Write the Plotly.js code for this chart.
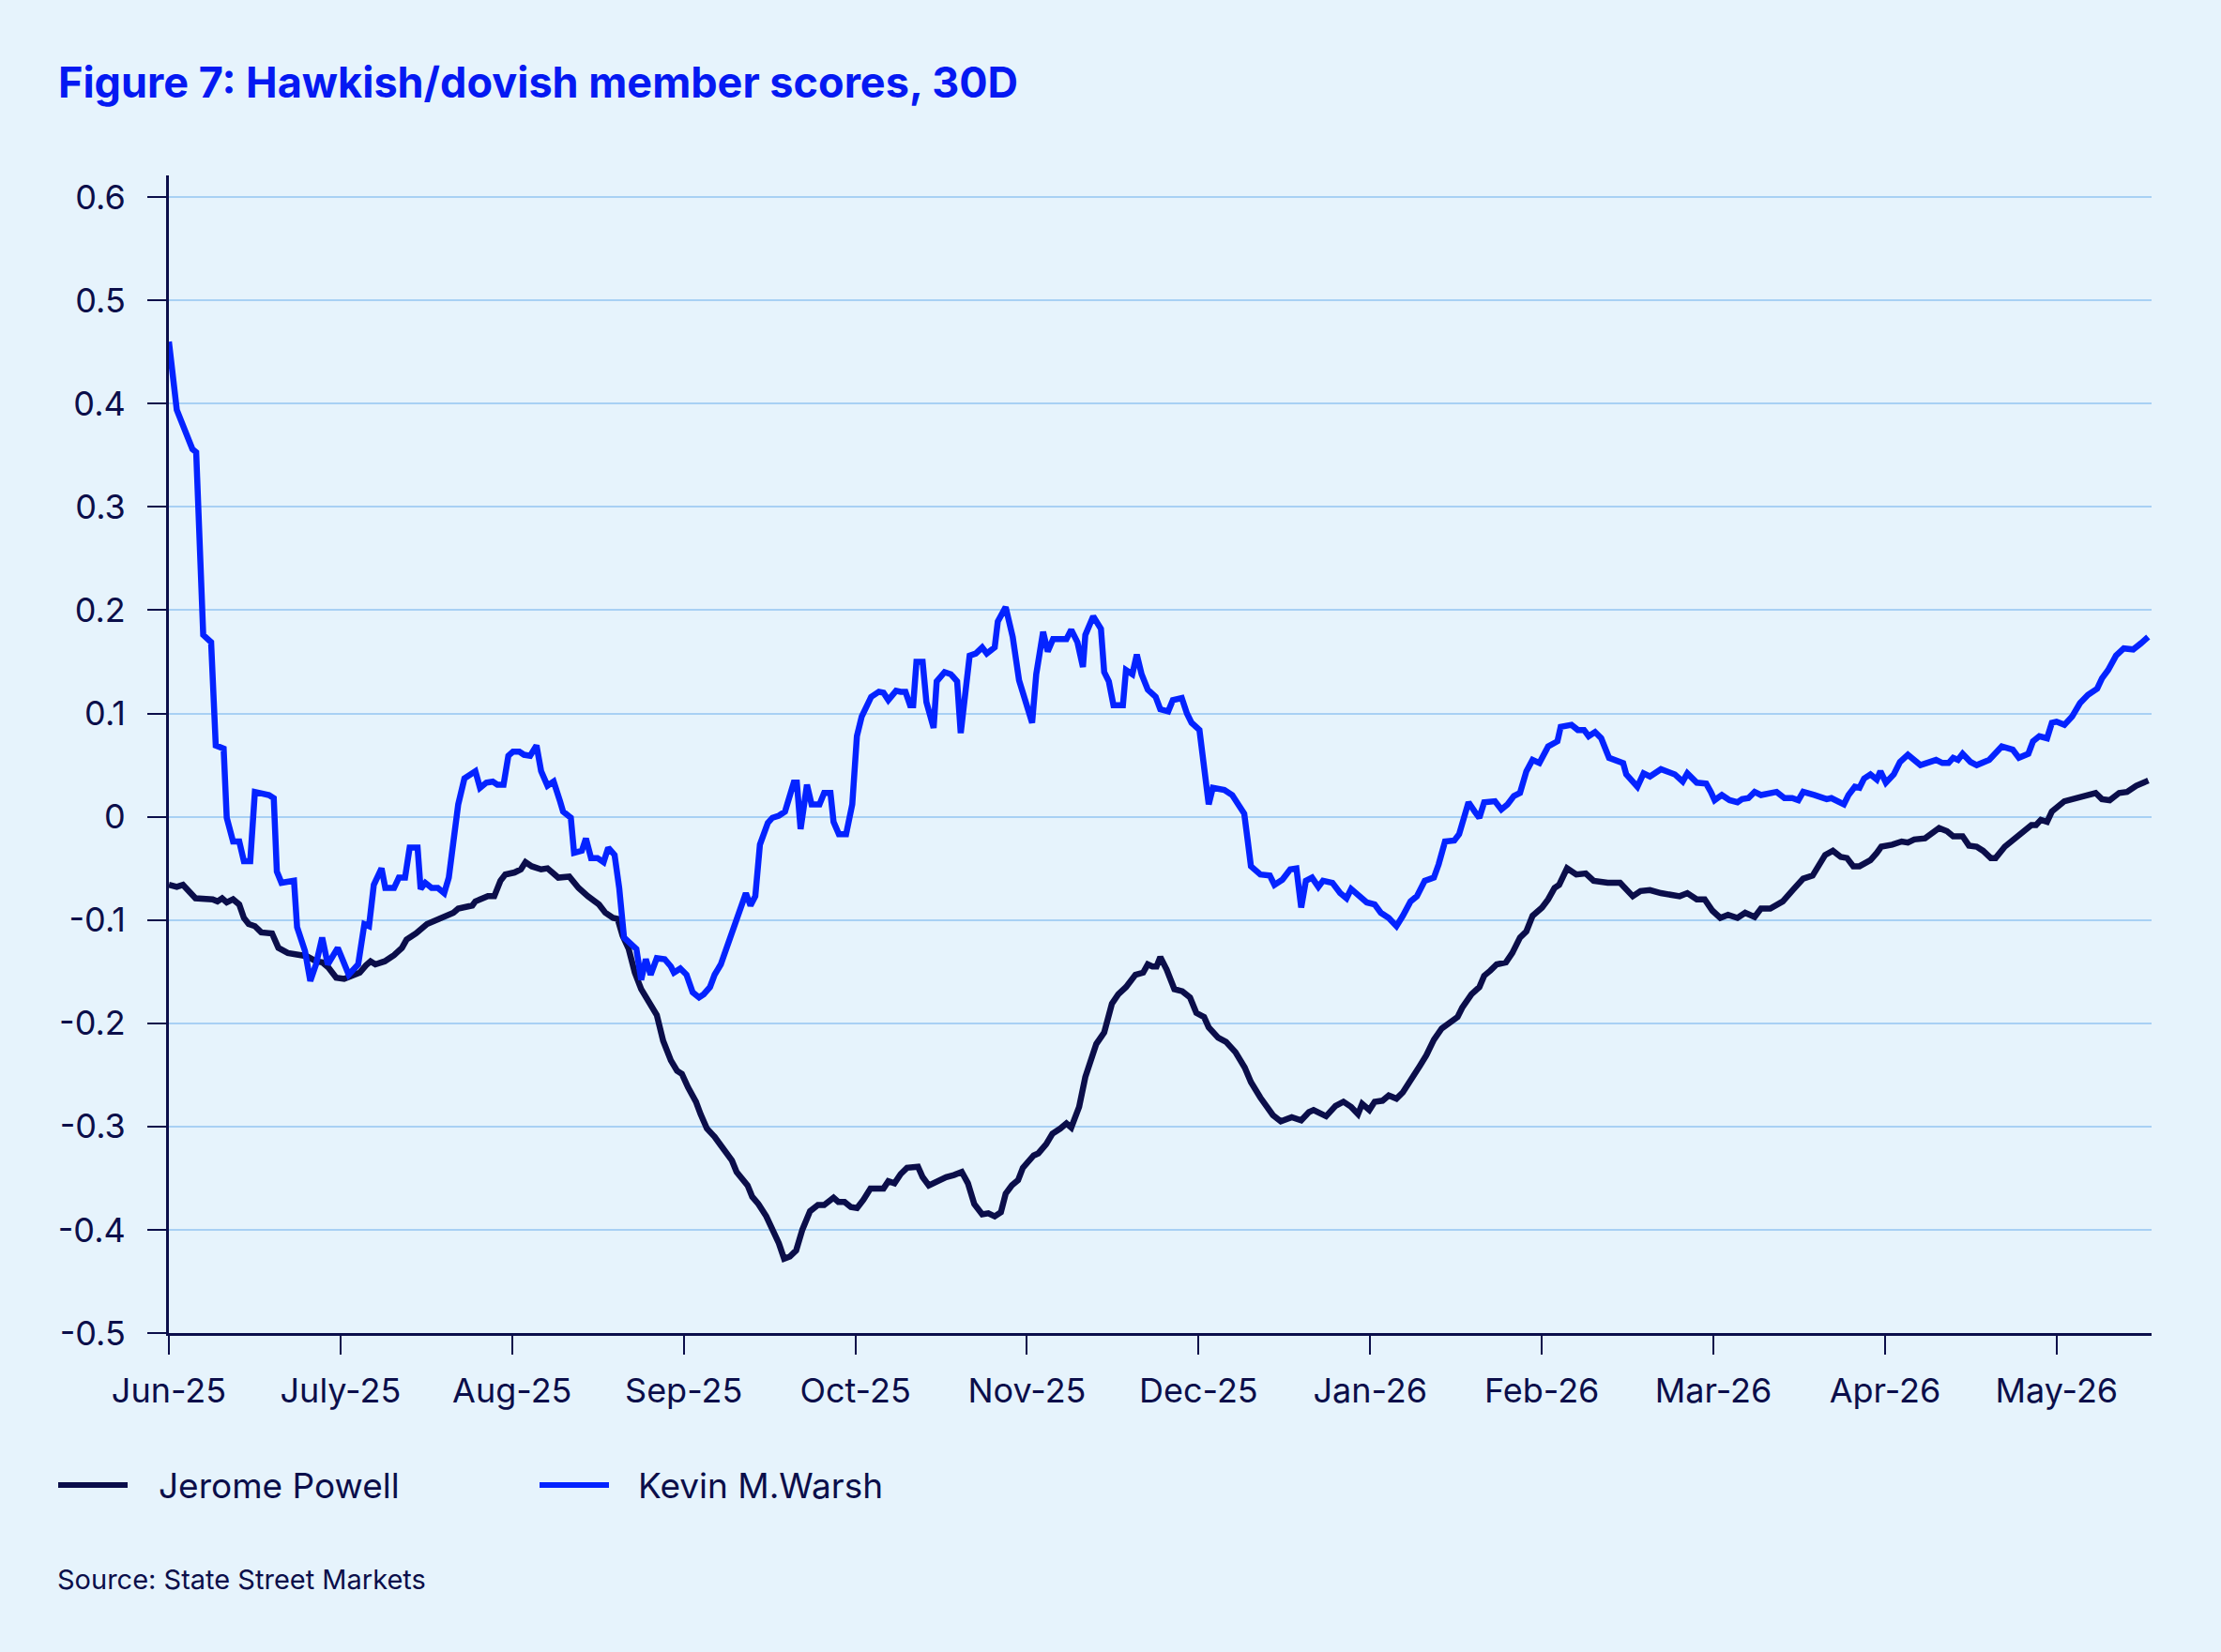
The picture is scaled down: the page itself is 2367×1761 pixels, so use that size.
<!DOCTYPE html>
<html>
<head>
<meta charset="utf-8">
<script src="https://cdn.plot.ly/plotly-3.0.1.min.js"></script>
<style>
  html, body { margin: 0; padding: 0; background: #E6F3FC; }
  #chart { width: 2367px; height: 1761px; }
</style>
</head>
<body>
<div id="chart"></div>
<script>
// ---- Data (x = position in months since Jun-25 on the category-style date axis) ----
const tickLabels = ["Jun-25","July-25","Aug-25","Sep-25","Oct-25","Nov-25","Dec-25","Jan-26","Feb-26","Mar-26","Apr-26","May-26"];
const tickPositions = [0,1,2,3,4,5,6,7,8,9,10,11];

const powellX = [0.000,0.046,0.082,0.118,0.155,0.255,0.283,0.310,0.337,0.374,0.410,0.437,0.465,0.501,0.538,0.601,0.638,0.693,0.747,0.802,0.857,0.893,0.929,0.975,1.021,1.066,1.112,1.148,1.175,1.203,1.258,1.312,1.358,1.385,1.440,1.504,1.549,1.604,1.658,1.686,1.731,1.768,1.786,1.832,1.859,1.896,1.932,1.960,2.014,2.051,2.078,2.114,2.169,2.206,2.269,2.333,2.387,2.442,2.506,2.543,2.588,2.615,2.643,2.679,2.715,2.752,2.798,2.843,2.880,2.925,2.961,2.989,3.025,3.071,3.098,3.135,3.180,3.226,3.281,3.308,3.344,3.372,3.399,3.435,3.481,3.517,3.554,3.585,3.618,3.655,3.691,3.736,3.782,3.818,3.873,3.901,3.937,3.974,4.010,4.047,4.088,4.128,4.164,4.192,4.228,4.264,4.301,4.365,4.392,4.428,4.474,4.529,4.574,4.620,4.656,4.693,4.739,4.775,4.812,4.848,4.876,4.912,4.948,4.976,5.039,5.066,5.112,5.148,5.194,5.230,5.258,5.304,5.340,5.404,5.450,5.495,5.532,5.577,5.632,5.677,5.704,5.731,5.755,5.777,5.814,5.859,5.905,5.950,5.987,6.032,6.059,6.114,6.160,6.215,6.269,6.305,6.360,6.397,6.433,6.479,6.543,6.598,6.643,6.670,6.743,6.798,6.844,6.889,6.929,6.953,6.995,7.026,7.072,7.108,7.153,7.190,7.235,7.290,7.327,7.371,7.417,7.463,7.509,7.536,7.590,7.636,7.664,7.700,7.737,7.791,7.828,7.873,7.910,7.946,8.001,8.037,8.074,8.101,8.147,8.201,8.256,8.302,8.384,8.456,8.483,8.530,8.575,8.630,8.694,8.748,8.803,8.848,8.903,8.949,8.994,9.040,9.085,9.140,9.185,9.240,9.277,9.331,9.404,9.468,9.523,9.578,9.614,9.651,9.696,9.742,9.778,9.815,9.851,9.915,9.952,9.978,10.042,10.097,10.133,10.170,10.233,10.270,10.315,10.361,10.397,10.452,10.489,10.534,10.571,10.616,10.644,10.698,10.753,10.808,10.853,10.880,10.908,10.944,10.972,11.045,11.090,11.118,11.172,11.227,11.264,11.309,11.364,11.410,11.464,11.534];
const powellY = [-0.066,-0.068,-0.066,-0.072,-0.079,-0.080,-0.082,-0.079,-0.083,-0.080,-0.085,-0.098,-0.104,-0.106,-0.112,-0.113,-0.127,-0.132,-0.134,-0.135,-0.140,-0.141,-0.146,-0.156,-0.157,-0.154,-0.151,-0.144,-0.140,-0.143,-0.140,-0.134,-0.127,-0.119,-0.113,-0.104,-0.101,-0.096,-0.093,-0.089,-0.087,-0.086,-0.082,-0.079,-0.077,-0.077,-0.062,-0.056,-0.054,-0.051,-0.044,-0.048,-0.051,-0.050,-0.059,-0.058,-0.069,-0.077,-0.085,-0.093,-0.098,-0.099,-0.115,-0.128,-0.151,-0.167,-0.180,-0.192,-0.217,-0.236,-0.246,-0.249,-0.262,-0.276,-0.288,-0.302,-0.310,-0.320,-0.333,-0.344,-0.351,-0.357,-0.368,-0.375,-0.387,-0.400,-0.413,-0.428,-0.426,-0.420,-0.400,-0.382,-0.376,-0.376,-0.369,-0.373,-0.373,-0.378,-0.379,-0.371,-0.360,-0.360,-0.360,-0.353,-0.355,-0.346,-0.340,-0.339,-0.349,-0.357,-0.353,-0.349,-0.347,-0.344,-0.355,-0.375,-0.385,-0.384,-0.387,-0.383,-0.365,-0.357,-0.352,-0.340,-0.328,-0.326,-0.317,-0.307,-0.302,-0.297,-0.301,-0.281,-0.252,-0.220,-0.209,-0.181,-0.172,-0.165,-0.153,-0.151,-0.143,-0.145,-0.145,-0.136,-0.148,-0.167,-0.169,-0.175,-0.190,-0.194,-0.204,-0.214,-0.218,-0.228,-0.243,-0.257,-0.272,-0.280,-0.289,-0.295,-0.291,-0.294,-0.286,-0.284,-0.290,-0.280,-0.276,-0.281,-0.288,-0.278,-0.284,-0.276,-0.275,-0.270,-0.273,-0.267,-0.254,-0.241,-0.231,-0.216,-0.205,-0.199,-0.194,-0.185,-0.172,-0.165,-0.154,-0.149,-0.143,-0.141,-0.132,-0.117,-0.111,-0.096,-0.088,-0.080,-0.069,-0.066,-0.050,-0.056,-0.055,-0.062,-0.064,-0.064,-0.069,-0.077,-0.072,-0.071,-0.074,-0.075,-0.077,-0.074,-0.080,-0.080,-0.091,-0.098,-0.095,-0.098,-0.093,-0.097,-0.089,-0.089,-0.082,-0.070,-0.060,-0.057,-0.048,-0.037,-0.033,-0.039,-0.040,-0.048,-0.048,-0.042,-0.035,-0.029,-0.027,-0.024,-0.025,-0.022,-0.021,-0.016,-0.011,-0.014,-0.019,-0.019,-0.028,-0.029,-0.033,-0.040,-0.040,-0.029,-0.021,-0.014,-0.008,-0.008,-0.003,-0.005,0.005,0.015,0.017,0.018,0.020,0.023,0.017,0.016,0.023,0.024,0.030,0.035];

const warshX = [0.000,0.046,0.137,0.159,0.200,0.246,0.273,0.319,0.337,0.374,0.410,0.437,0.474,0.501,0.583,0.611,0.629,0.656,0.729,0.747,0.793,0.824,0.857,0.893,0.926,0.984,1.048,1.103,1.139,1.166,1.194,1.239,1.261,1.312,1.340,1.376,1.403,1.449,1.467,1.494,1.531,1.567,1.604,1.631,1.658,1.686,1.722,1.759,1.786,1.813,1.850,1.887,1.914,1.950,1.978,2.005,2.042,2.069,2.105,2.142,2.169,2.206,2.242,2.279,2.297,2.342,2.361,2.406,2.430,2.460,2.497,2.533,2.560,2.597,2.624,2.652,2.688,2.724,2.752,2.779,2.807,2.843,2.889,2.925,2.943,2.980,3.016,3.052,3.089,3.116,3.153,3.180,3.216,3.253,3.299,3.344,3.362,3.389,3.417,3.444,3.490,3.517,3.554,3.590,3.641,3.659,3.681,3.718,3.745,3.791,3.818,3.855,3.873,3.904,3.946,3.982,4.009,4.037,4.092,4.137,4.164,4.192,4.237,4.264,4.292,4.319,4.337,4.356,4.392,4.414,4.456,4.474,4.520,4.556,4.593,4.614,4.638,4.666,4.702,4.739,4.766,4.812,4.830,4.876,4.917,4.954,5.030,5.054,5.094,5.121,5.152,5.230,5.258,5.294,5.326,5.340,5.386,5.431,5.450,5.477,5.504,5.559,5.577,5.614,5.640,5.668,5.704,5.750,5.777,5.823,5.850,5.902,5.932,5.959,6.005,6.032,6.059,6.083,6.150,6.196,6.232,6.266,6.287,6.305,6.360,6.415,6.442,6.488,6.534,6.570,6.598,6.625,6.661,6.698,6.725,6.780,6.825,6.862,6.889,6.944,6.980,7.026,7.062,7.108,7.153,7.190,7.235,7.272,7.318,7.371,7.399,7.436,7.490,7.518,7.573,7.609,7.636,7.664,7.727,7.764,7.800,7.837,7.873,7.910,7.946,7.986,8.037,8.091,8.110,8.173,8.210,8.246,8.273,8.310,8.346,8.392,8.474,8.492,8.529,8.557,8.593,8.630,8.694,8.775,8.821,8.848,8.903,8.958,8.985,9.007,9.049,9.094,9.140,9.167,9.204,9.240,9.277,9.368,9.414,9.459,9.495,9.523,9.587,9.660,9.687,9.732,9.760,9.787,9.824,9.851,9.878,9.915,9.952,9.973,10.005,10.051,10.087,10.133,10.206,10.297,10.334,10.370,10.397,10.425,10.452,10.498,10.534,10.607,10.680,10.744,10.780,10.835,10.862,10.899,10.944,10.972,10.999,11.045,11.090,11.136,11.182,11.236,11.264,11.300,11.346,11.391,11.446,11.492,11.533];
const warshY = [0.460,0.394,0.356,0.353,0.176,0.169,0.069,0.066,-0.001,-0.024,-0.024,-0.043,-0.043,0.024,0.021,0.018,-0.053,-0.064,-0.062,-0.107,-0.130,-0.159,-0.143,-0.117,-0.143,-0.127,-0.153,-0.143,-0.104,-0.106,-0.066,-0.050,-0.069,-0.069,-0.059,-0.059,-0.030,-0.030,-0.070,-0.064,-0.069,-0.069,-0.074,-0.059,-0.024,0.012,0.037,0.041,0.044,0.028,0.033,0.034,0.031,0.031,0.059,0.063,0.063,0.060,0.059,0.069,0.044,0.030,0.034,0.015,0.005,-0.001,-0.035,-0.033,-0.021,-0.040,-0.040,-0.044,-0.030,-0.037,-0.069,-0.117,-0.122,-0.128,-0.158,-0.138,-0.153,-0.137,-0.138,-0.145,-0.151,-0.147,-0.153,-0.170,-0.175,-0.172,-0.165,-0.153,-0.143,-0.125,-0.104,-0.085,-0.074,-0.086,-0.077,-0.027,-0.006,-0.001,0.001,0.005,0.033,0.033,-0.012,0.031,0.012,0.012,0.023,0.023,-0.005,-0.017,-0.017,0.012,0.078,0.097,0.116,0.121,0.120,0.113,0.122,0.121,0.121,0.108,0.108,0.150,0.150,0.111,0.086,0.131,0.140,0.138,0.131,0.081,0.118,0.156,0.158,0.164,0.158,0.164,0.189,0.203,0.174,0.132,0.091,0.138,0.179,0.160,0.172,0.172,0.181,0.169,0.145,0.176,0.194,0.182,0.140,0.131,0.108,0.108,0.142,0.138,0.157,0.138,0.123,0.116,0.104,0.102,0.113,0.115,0.100,0.091,0.084,0.050,0.012,0.028,0.026,0.021,0.012,0.003,-0.024,-0.048,-0.056,-0.057,-0.066,-0.061,-0.051,-0.050,-0.088,-0.062,-0.059,-0.068,-0.062,-0.064,-0.074,-0.079,-0.070,-0.077,-0.083,-0.085,-0.093,-0.098,-0.106,-0.096,-0.082,-0.077,-0.062,-0.059,-0.046,-0.024,-0.023,-0.017,0.014,0.005,-0.001,0.014,0.015,0.007,0.012,0.020,0.023,0.044,0.055,0.052,0.068,0.073,0.087,0.089,0.084,0.084,0.078,0.082,0.076,0.057,0.052,0.041,0.035,0.029,0.042,0.039,0.046,0.041,0.034,0.042,0.033,0.032,0.024,0.016,0.021,0.016,0.014,0.017,0.018,0.024,0.021,0.024,0.018,0.018,0.016,0.024,0.021,0.017,0.018,0.014,0.012,0.021,0.029,0.028,0.037,0.041,0.036,0.044,0.033,0.041,0.053,0.060,0.050,0.055,0.052,0.052,0.057,0.055,0.061,0.053,0.050,0.055,0.068,0.065,0.057,0.061,0.073,0.078,0.076,0.091,0.092,0.089,0.097,0.110,0.118,0.124,0.134,0.142,0.156,0.163,0.162,0.168,0.174];

const seriesNames = ["Jerome Powell", "Kevin M.Warsh"];
const yTickVals = [-0.5,-0.4,-0.3,-0.2,-0.1,0,0.1,0.2,0.3,0.4,0.5,0.6];
const yTickText = ["-0.5","-0.4","-0.3","-0.2","-0.1","0","0.1","0.2","0.3","0.4","0.5","0.6"];

// ---- Styling ----
const NAVY = "#0B0E4A";
const BLUE = "#0423FF";
const TITLE_BLUE = "#0519F2";
const BG = "#E6F3FC";
const GRID = "#A8D0F4";
const FONT = "Inter, 'Noto Sans', sans-serif";

const W = 2367, H = 1761;
const PL = 180, PR = 2293, PT = 187, PB = 1421;
const px = x => (x - PL) / (PR - PL);
const py = y => (PB - y) / (PB - PT);

const traces = [
  { x: powellX, y: powellY, name: seriesNames[0], type: "scatter", mode: "lines",
    line: { color: NAVY, width: 6.5, shape: "linear" }, showlegend: false, hoverinfo: "skip" },
  { x: warshX, y: warshY, name: seriesNames[1], type: "scatter", mode: "lines",
    line: { color: BLUE, width: 6.5, shape: "linear" }, showlegend: false, hoverinfo: "skip" }
];

const layout = {
  width: W, height: H,
  paper_bgcolor: BG, plot_bgcolor: BG,
  margin: { l: PL, r: W - PR, t: PT, b: H - PB, pad: 0 },
  font: { family: FONT, color: NAVY, size: 36 },
  title: {
    text: "Figure 7: Hawkish/dovish member scores, 30D",
    font: { family: FONT, size: 45, color: TITLE_BLUE, weight: 700 },
    xref: "container", yref: "container",
    x: 62 / W, xanchor: "left",
    y: 1 - 88 / H, yanchor: "middle"
  },
  xaxis: {
    range: [0, 11.553], tickmode: "array", tickvals: tickPositions, ticktext: tickLabels,
    showgrid: false, zeroline: false, showline: true, linecolor: NAVY, linewidth: 3,
    ticks: "outside", ticklen: 20, tickwidth: 2, tickcolor: NAVY,
    tickfont: { family: FONT, size: 36, color: NAVY }, ticklabelstandoff: 8,
    fixedrange: true
  },
  yaxis: {
    range: [-0.5, 0.621], tickmode: "array", tickvals: yTickVals, ticktext: yTickText,
    showgrid: true, gridcolor: GRID, gridwidth: 2, zeroline: false,
    showline: true, linecolor: NAVY, linewidth: 3,
    ticks: "outside", ticklen: 20, tickwidth: 2, tickcolor: NAVY,
    tickfont: { family: FONT, size: 36, color: NAVY }, ticklabelstandoff: 16,
    fixedrange: true
  },
  shapes: [
    { type: "line", xref: "paper", yref: "paper", x0: px(62), x1: px(136), y0: py(1583), y1: py(1583),
      line: { color: NAVY, width: 6 } },
    { type: "line", xref: "paper", yref: "paper", x0: px(575), x1: px(649), y0: py(1583), y1: py(1583),
      line: { color: BLUE, width: 6 } }
  ],
  annotations: [
    { text: seriesNames[0], xref: "paper", yref: "paper", x: px(167), y: py(1583), xanchor: "left", yanchor: "middle",
      showarrow: false, font: { family: FONT, size: 37, color: NAVY } },
    { text: seriesNames[1], xref: "paper", yref: "paper", x: px(678), y: py(1583), xanchor: "left", yanchor: "middle",
      showarrow: false, font: { family: FONT, size: 37, color: NAVY } },
    { text: "Source: State Street Markets", xref: "paper", yref: "paper", x: px(59), y: py(1683), xanchor: "left", yanchor: "middle",
      showarrow: false, font: { family: FONT, size: 29, color: NAVY } }
  ]
};

Plotly.newPlot("chart", traces, layout, { displayModeBar: false, staticPlot: true });
</script>
</body>
</html>
